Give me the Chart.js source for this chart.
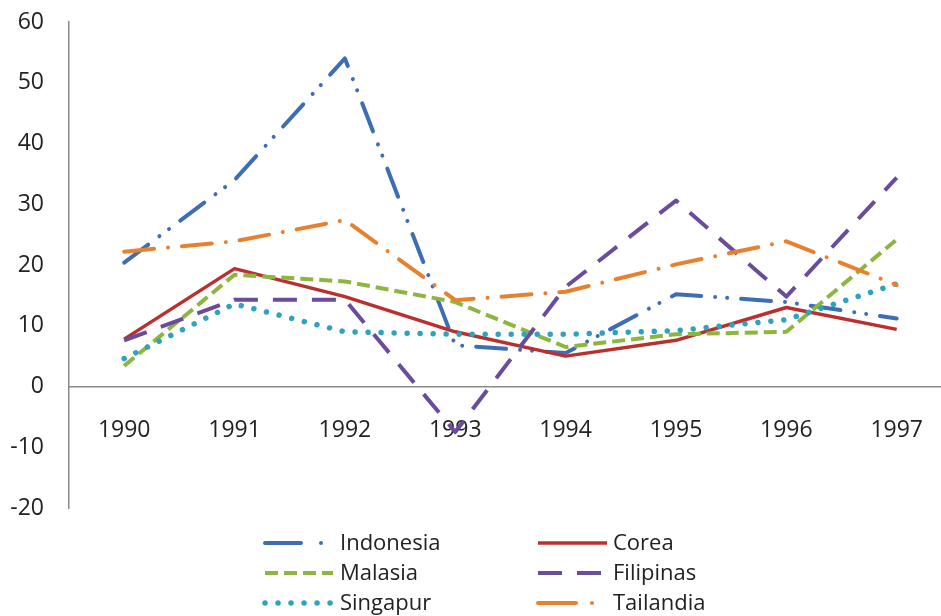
<!DOCTYPE html>
<html><head><meta charset="utf-8">
<script src="https://cdn.jsdelivr.net/npm/chart.js@4/dist/chart.umd.min.js"></script>
<style>html,body{margin:0;padding:0;background:#fff;overflow:hidden;}#wrap{width:941px;height:616px;position:relative;overflow:hidden;}canvas{display:block;}</style>
</head><body><div id="wrap"><canvas id="c" width="953" height="616"></canvas></div>
<script>
const years = ['1990','1991','1992','1993','1994','1995','1996','1997'];
const indonesia = [20.4, 34.0, 54.0, 6.8, 5.5, 15.2, 13.9, 11.2];
const corea     = [7.8, 19.4, 14.8, 9.0, 5.0, 7.6, 13.0, 9.4];
const malasia   = [3.4, 18.4, 17.3, 13.9, 6.5, 8.6, 9.0, 24.2];
const filipinas = [7.6, 14.3, 14.3, -7.5, 16.4, 30.6, 14.8, 34.4];
const singapur  = [4.6, 13.6, 9.0, 8.6, 8.6, 9.2, 11.0, 16.9];
const tailandia = [22.2, 23.9, 27.4, 14.2, 15.6, 20.1, 23.9, 16.7];
const yMin = -20, yMax = 60, yStep = 10;

const FONT = '"Open Sans", "Noto Sans", sans-serif';
function ds(label, data, color, dash, width, cap, idx){
  return {label, data, borderColor: color, backgroundColor: color, borderDash: dash,
    borderWidth: width, borderCapStyle: cap, borderJoinStyle: 'round', pointRadius: 0,
    tension: 0, fill: false, order: 6 - idx};
}
const datasets = [
  ds('Indonesia', indonesia, '#3D6DB5', [30,14,0.01,12,0.01,14], 4, 'round', 0),
  ds('Corea', corea, '#B9302E', [], 3.5, 'butt', 1),
  ds('Malasia', malasia, '#8DB540', [13,6], 4, 'butt', 2),
  ds('Filipinas', filipinas, '#6A4C9C', [24,15], 4, 'butt', 3),
  ds('Singapur', singapur, '#2DA3BC', [0.01,13], 5.5, 'round', 4),
  ds('Tailandia', tailandia, '#E8812F', [30,14,0.01,14], 4, 'round', 5)
];

const legendPlugin = {
  id: 'customLegend',
  afterDraw(chart){
    const ctx = chart.ctx;
    const cols = [{x0:265, x1:333, tx:340}, {x0:538, x1:607, tx:613}];
    const rows = [543, 573, 603];
    chart.data.datasets.forEach((d, i) => {
      const c = cols[i % 2], y = rows[Math.floor(i / 2)];
      ctx.save();
      ctx.strokeStyle = d.borderColor;
      ctx.lineWidth = d.borderWidth;
      ctx.lineCap = d.borderCapStyle;
      ctx.setLineDash(d.label === 'Indonesia' ? [36,20,0.01,40] : d.label === 'Tailandia' ? [38,16,0.01,40] : d.borderDash);
      ctx.beginPath();
      ctx.moveTo(c.x0, y); ctx.lineTo(c.x1, y);
      ctx.stroke();
      ctx.setLineDash([]);
      ctx.fillStyle = '#222';
      ctx.font = '22px ' + FONT;
      ctx.textBaseline = 'alphabetic';
      ctx.textAlign = 'left';
      ctx.fillText(d.label, c.tx, y + 7);
      ctx.restore();
    });
  }
};

new Chart(document.getElementById('c'), {
  type: 'line',
  data: { labels: years, datasets },
  options: {
    responsive: false, animation: false, devicePixelRatio: 1,
    layout: { padding: { left: 0, top: 22, right: 0, bottom: 108 } },
    plugins: { legend: { display: false }, tooltip: { enabled: false } },
    scales: {
      x: {
        type: 'category', position: { y: 0 }, offset: true,
        grid: { display: false, drawTicks: false },
        border: { display: true, color: '#8a8a8a', width: 1.5 },
        ticks: { color: '#222', font: { family: FONT, size: 23 }, padding: 30, maxRotation: 0 },
        afterFit(s){ s.height = 0; }
      },
      y: {
        min: yMin, max: yMax,
        grid: { display: false, drawTicks: false },
        border: { display: true, color: '#8a8a8a', width: 1.5 },
        ticks: { stepSize: yStep, color: '#222', font: { family: FONT, size: 23 }, padding: 25 },
        afterFit(s){ s.width = 69; s.paddingTop = 0; s.paddingBottom = 0; }
      }
    }
  },
  plugins: [legendPlugin]
});
</script></body></html>
